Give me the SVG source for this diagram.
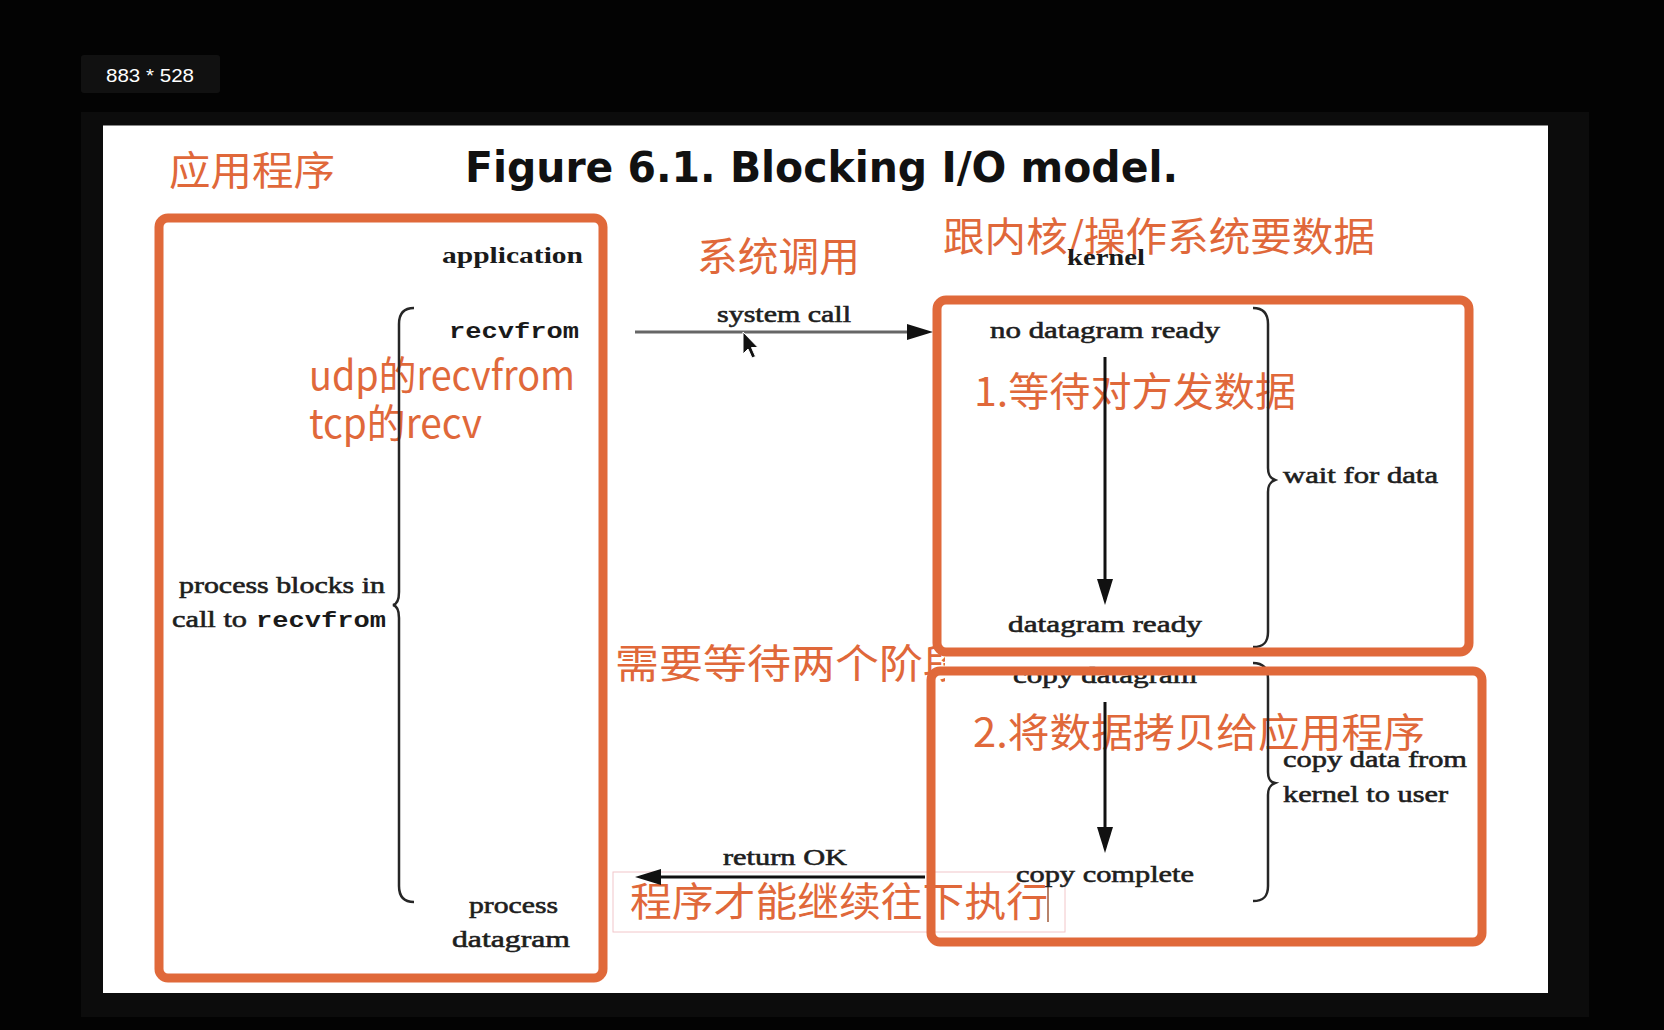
<svg xmlns="http://www.w3.org/2000/svg" width="1664" height="1030" viewBox="0 0 1664 1030">
<style>
.fig{font-family:"Liberation Serif","DejaVu Serif",serif;font-size:24px;fill:#1e1e1e;stroke:#1e1e1e;stroke-width:0.6}
.figb{font-family:"Liberation Serif","DejaVu Serif",serif;font-size:24px;font-weight:bold;fill:#1a1a1a}
.mono{font-family:"Liberation Mono","DejaVu Sans Mono",monospace;font-size:22px;font-weight:bold;fill:#1a1a1a}
.note{font-family:"Noto Sans CJK SC","Noto Sans",sans-serif;font-size:40px;fill:#E0683A}
.obox{fill:none;stroke:#E0693A;stroke-width:9}
.brace{fill:none;stroke:#262626;stroke-width:2.5}
.conn{stroke:#111;stroke-width:3;fill:none}
.conn.gray{stroke:#666}
</style>
<defs>
<marker id="ah" markerUnits="userSpaceOnUse" viewBox="0 0 26 16" refX="20" refY="8" markerWidth="26" markerHeight="16" orient="auto">
<path d="M0,0 L26,8 L0,16 z" fill="#111"/>
</marker>
<clipPath id="clipTwo"><rect x="600" y="620" width="345" height="80"/></clipPath>
</defs>
<rect x="0" y="0" width="1664" height="1030" fill="#030303"/>
<rect x="81" y="112" width="1508" height="905" fill="#0c0c0c"/>
<rect x="103" y="125" width="1445" height="868" fill="#ffffff"/>
<line x1="103" y1="125.5" x2="1548" y2="125.5" stroke="#888" stroke-width="1"/>
<g id="size-label">
<rect x="81" y="55" width="139" height="38" rx="3" fill="#111"/>
<text x="106" y="82" font-family="Liberation Sans,Arial,sans-serif" font-size="19" fill="#ffffff" textLength="88" lengthAdjust="spacingAndGlyphs">883 * 528</text>
</g>
<g id="title">
<text x="465" y="182" font-family="DejaVu Sans,Verdana,sans-serif" font-size="43" font-weight="bold" fill="#111" textLength="713" lengthAdjust="spacingAndGlyphs">Figure 6.1. Blocking I/O model.</text>
</g>
<g id="annotations">
<text id="note-app" class="note" x="169" y="185" textLength="166" lengthAdjust="spacingAndGlyphs">应用程序</text>
<text id="note-syscall" class="note" x="697" y="271" textLength="163" lengthAdjust="spacingAndGlyphs">系统调用</text>
<text id="note-kernel" class="note" x="943" y="251" textLength="432" lengthAdjust="spacingAndGlyphs">跟内核/操作系统要数据</text>
<text id="note-udp" class="note" x="309" y="390" font-size="36" textLength="266" lengthAdjust="spacingAndGlyphs">udp的recvfrom</text>
<text id="note-tcp" class="note" x="309" y="438" font-size="36" textLength="173" lengthAdjust="spacingAndGlyphs">tcp的recv</text>
<text id="note-step1" class="note" x="974" y="406" textLength="322" lengthAdjust="spacingAndGlyphs">1.等待对方发数据</text>
<text id="note-two" class="note" x="615" y="678" clip-path="url(#clipTwo)" textLength="352" lengthAdjust="spacingAndGlyphs">需要等待两个阶段</text>
<text id="note-step2" class="note" x="973" y="747" textLength="452" lengthAdjust="spacingAndGlyphs">2.将数据拷贝给应用程序</text>
<g id="note-continue">
<rect x="613" y="872" width="452" height="60" fill="none" stroke="#f2c6c9" stroke-width="1"/>
<text class="note" x="630" y="916" textLength="418" lengthAdjust="spacingAndGlyphs">程序才能继续往下执行</text>
<line x1="1048" y1="886" x2="1048" y2="922" stroke="#a05a3a" stroke-width="1.5"/>
</g>
</g>
<g id="application-column">
<text class="figb" x="442" y="263" textLength="141" lengthAdjust="spacingAndGlyphs">application</text>
<text class="mono" x="449" y="338" textLength="130" lengthAdjust="spacingAndGlyphs">recvfrom</text>
<text class="fig" x="179" y="593" textLength="206" lengthAdjust="spacingAndGlyphs">process blocks in</text>
<text class="fig" x="172" y="627" textLength="75" lengthAdjust="spacingAndGlyphs">call to</text>
<text class="mono" x="256" y="627" textLength="130" lengthAdjust="spacingAndGlyphs">recvfrom</text>
<text class="fig" x="469" y="913" textLength="89" lengthAdjust="spacingAndGlyphs">process</text>
<text class="fig" x="452" y="947" textLength="118" lengthAdjust="spacingAndGlyphs">datagram</text>
<path class="brace" d="M414,308 C403,308 399,314 399,324 L399,592 C399,600 397,604 393,605 C397,606 399,610 399,618 L399,886 C399,896 403,902 414,902"/>
</g>
<g id="kernel-column">
<text class="figb" x="1067" y="265" textLength="78" lengthAdjust="spacingAndGlyphs">kernel</text>
<text class="fig" x="990" y="338" textLength="230" lengthAdjust="spacingAndGlyphs">no datagram ready</text>
<text class="fig" x="1008" y="632" textLength="194" lengthAdjust="spacingAndGlyphs">datagram ready</text>
<text class="fig" x="1013" y="683" textLength="184" lengthAdjust="spacingAndGlyphs">copy datagram</text>
<text class="fig" x="1016" y="882" textLength="178" lengthAdjust="spacingAndGlyphs">copy complete</text>
<text class="fig" x="1283" y="483" textLength="155" lengthAdjust="spacingAndGlyphs">wait for data</text>
<text class="fig" x="1283" y="767" textLength="184" lengthAdjust="spacingAndGlyphs">copy data from</text>
<text class="fig" x="1283" y="802" textLength="165" lengthAdjust="spacingAndGlyphs">kernel to user</text>
<path class="brace" d="M1253,308 C1264,308 1268,314 1268,324 L1268,468 C1268,475 1270,478 1275,480 C1270,482 1268,485 1268,492 L1268,632 C1268,642 1264,647 1253,647"/>
<path class="brace" d="M1253,663 C1264,663 1268,669 1268,679 L1268,772 C1268,779 1270,782 1275,783 C1270,785 1268,788 1268,795 L1268,886 C1268,896 1264,901 1253,901"/>
</g>
<g id="connectors">
<text class="fig" x="717" y="322" textLength="134" lengthAdjust="spacingAndGlyphs">system call</text>
<line class="conn gray" x1="635" y1="332" x2="927" y2="332" marker-end="url(#ah)"/>
<line class="conn" x1="1105" y1="357" x2="1105" y2="599" marker-end="url(#ah)"/>
<line class="conn" x1="1105" y1="702" x2="1105" y2="847" marker-end="url(#ah)"/>
<text class="fig" x="723" y="865" textLength="124" lengthAdjust="spacingAndGlyphs">return OK</text>
<line class="conn" x1="925" y1="877" x2="641" y2="877" marker-end="url(#ah)"/>
</g>
<g id="boxes">
<rect id="box-app" class="obox" x="159" y="218" width="444" height="760" rx="9"/>
<rect id="box-wait" class="obox" x="937" y="300" width="532" height="352" rx="9"/>
<rect id="box-copy" class="obox" x="931" y="671" width="551" height="271" rx="9"/>
</g>
<path id="cursor" d="M743,332 L743,354 L748,349 L752,358 L755.5,356.5 L751.5,347.5 L758,347.5 Z" fill="#111" stroke="#fff" stroke-width="1"/>
</svg>
